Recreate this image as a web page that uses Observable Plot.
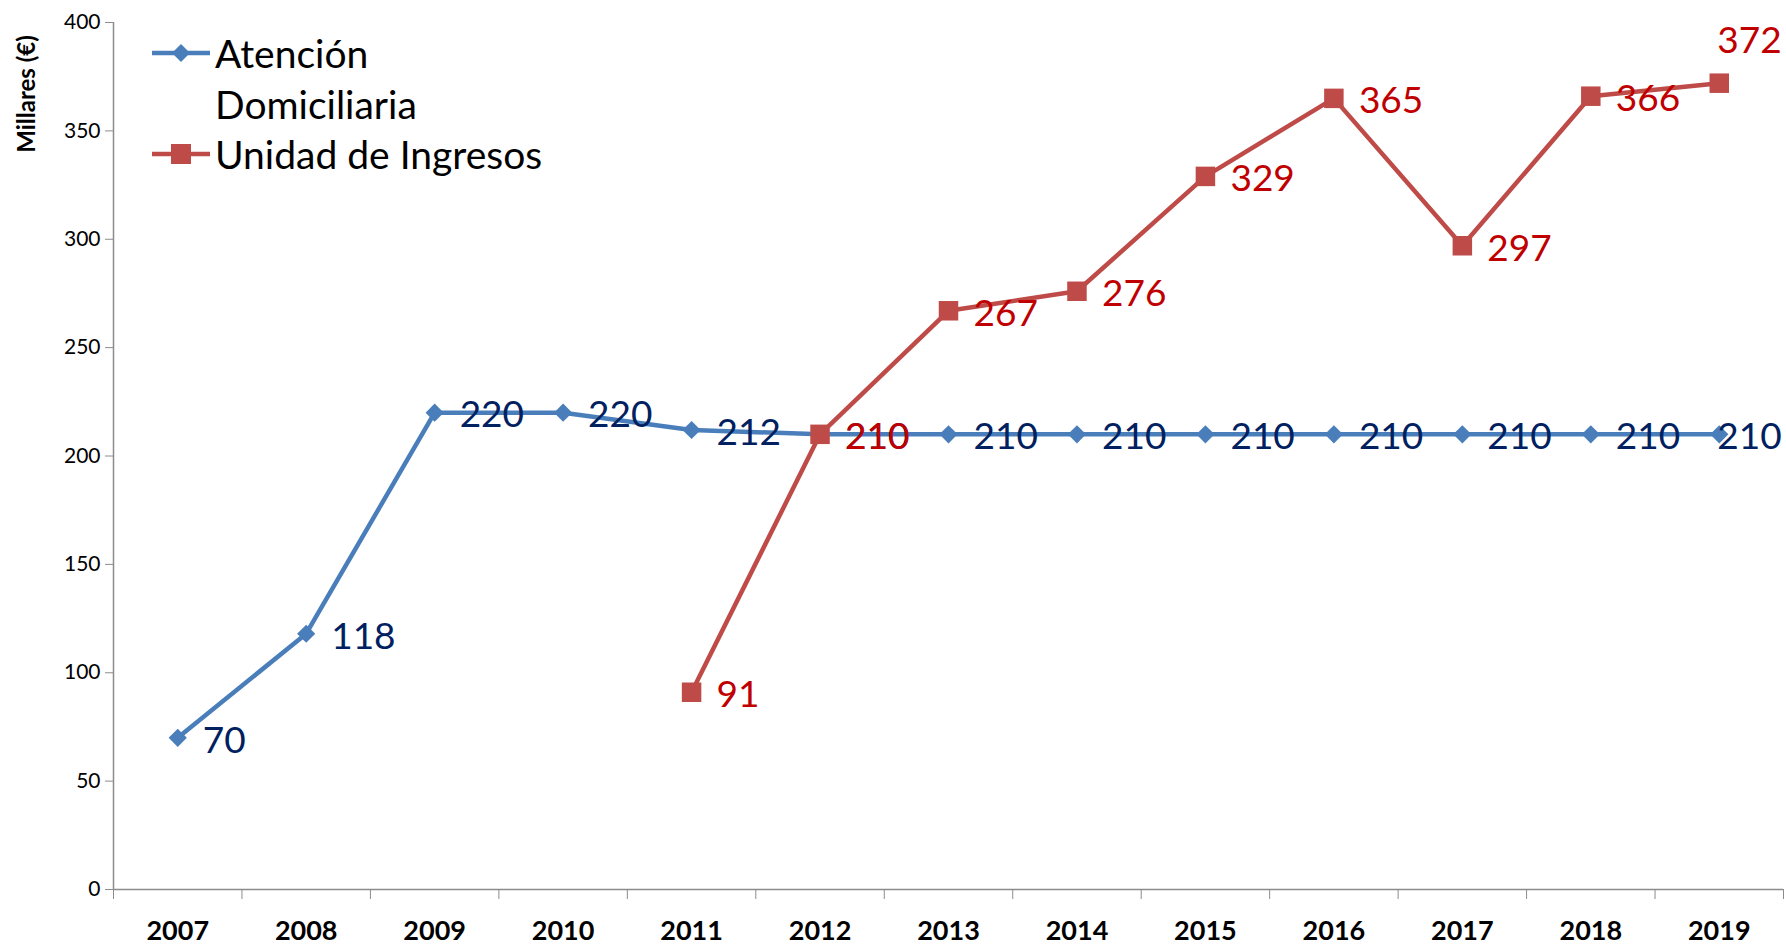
<!DOCTYPE html>
<html>
<head>
<meta charset="utf-8">
<script src="https://cdn.jsdelivr.net/npm/d3@7"></script>
<script src="https://cdn.jsdelivr.net/npm/@observablehq/plot@0.6"></script>
<style>
  html, body { margin: 0; padding: 0; background: #fff; }
  #wrap { position: relative; width: 1786px; height: 945px; font-family: Lato, "Open Sans", sans-serif; }
  #legend { position: absolute; left: 150px; top: 28px; font-size: 39px; color: #000; line-height: 50.5px; }
  #legend .row { display: flex; align-items: center; }
  #legend .sw { width: 62px; height: 20px; margin-right: 3px; }
  #legend .txt2 { padding-left: 65px; }
  #ytitle { position: absolute; left: 25px; top: 94px; transform: translate(-50%, -50%) rotate(-90deg); font-weight: bold; font-size: 24px; white-space: nowrap; font-family: Lato, sans-serif; }
</style>
</head>
<body>
<div id="wrap"></div>
<script>
const years = [2007, 2008, 2009, 2010, 2011, 2012, 2013, 2014, 2015, 2016, 2017, 2018, 2019];
const atencion = [70, 118, 220, 220, 212, 210, 210, 210, 210, 210, 210, 210, 210];
const unidadYears = [2011, 2012, 2013, 2014, 2015, 2016, 2017, 2018, 2019];
const unidad = [91, 210, 267, 276, 329, 365, 297, 366, 372];
const yTicks = [0, 50, 100, 150, 200, 250, 300, 350, 400];
const seriesNames = ["Atención Domiciliaria", "Unidad de Ingresos"];

const blue = "#4A7EBB", red = "#BE4B48";
const blueLab = "#002060", redLab = "#C00000";
const axisGrey = "#8C8C8C";

const A = years.map((x, i) => ({x, y: atencion[i]}));
const U = unidadYears.map((x, i) => ({x, y: unidad[i]}));
const lastYear = years[years.length - 1];
const bounds = [years[0] - 0.5, ...years.map(y => y + 0.5)];

const chart = Plot.plot({
  width: 1786,
  height: 945,
  marginLeft: 113,
  marginRight: 3,
  marginTop: 22,
  marginBottom: 56,
  style: {fontFamily: "Lato, 'Open Sans', sans-serif", background: "#fff"},
  x: {domain: [years[0] - 0.5, lastYear + 0.5]},
  y: {domain: [0, 400]},
  marks: [
    Plot.axisY({ticks: yTicks, tickSize: 8, tickPadding: 5, fontSize: 21, stroke: axisGrey, color: "#000", label: null, tickFormat: d => String(d)}),
    Plot.axisX({ticks: bounds, tickSize: 10, tickFormat: () => "", stroke: axisGrey, label: null}),
    Plot.axisX({ticks: years, tickSize: 0, tickPadding: 31, fontSize: 27, fontWeight: "bold", color: "#000", label: null, tickFormat: d => String(d)}),
    Plot.ruleX([years[0] - 0.5], {stroke: axisGrey, strokeWidth: 1.5}),
    Plot.ruleY([0], {stroke: axisGrey, strokeWidth: 1.5}),
    Plot.line(A, {x: "x", y: "y", stroke: blue, strokeWidth: 4.5}),
    Plot.dot(A, {x: "x", y: "y", symbol: "diamond2", r: 8.2, fill: blue, stroke: "none"}),
    Plot.line(U, {x: "x", y: "y", stroke: red, strokeWidth: 4.5}),
    Plot.dot(U, {x: "x", y: "y", symbol: "square", r: 11, fill: red, stroke: "none"}),
    Plot.text(A.filter(d => d.x !== lastYear), {x: "x", y: "y", text: d => String(d.y), dx: 25, dy: 3, textAnchor: "start", fill: blueLab, fontSize: 37}),
    Plot.text(A.filter(d => d.x === lastYear), {x: "x", y: "y", text: d => String(d.y), dx: -2, dy: 3, textAnchor: "start", fill: blueLab, fontSize: 37}),
    Plot.text(U.filter(d => d.x !== lastYear), {x: "x", y: "y", text: d => String(d.y), dx: 25, dy: 3, textAnchor: "start", fill: redLab, fontSize: 37}),
    Plot.text(U.filter(d => d.x === lastYear), {x: "x", y: "y", text: d => String(d.y), dx: -2, dy: -42, textAnchor: "start", fill: redLab, fontSize: 37})
  ]
});

const wrap = document.getElementById("wrap");
wrap.appendChild(chart);

const yt = document.createElement("div");
yt.id = "ytitle";
yt.textContent = "Millares (€)";
wrap.appendChild(yt);

const lg = document.createElement("div");
lg.id = "legend";
const sw = (c, shape) => `<svg class="sw" viewBox="0 0 62 20"><line x1="2" y1="10" x2="60" y2="10" stroke="${c}" stroke-width="4.5"/>` +
  (shape === "d" ? `<path d="M31,1 L40,10 L31,19 L22,10 Z" fill="${c}"/>` : `<rect x="21" y="0" width="20" height="20" fill="${c}"/>`) + `</svg>`;
const [n1a, n1b] = [seriesNames[0].split(" ")[0], seriesNames[0].split(" ").slice(1).join(" ")];
lg.innerHTML =
  `<div class="row">${sw(blue, "d")}<span>${n1a}</span></div>` +
  `<div class="row txt2"><span>${n1b}</span></div>` +
  `<div class="row">${sw(red, "s")}<span>${seriesNames[1]}</span></div>`;
wrap.appendChild(lg);
</script>
</body>
</html>
